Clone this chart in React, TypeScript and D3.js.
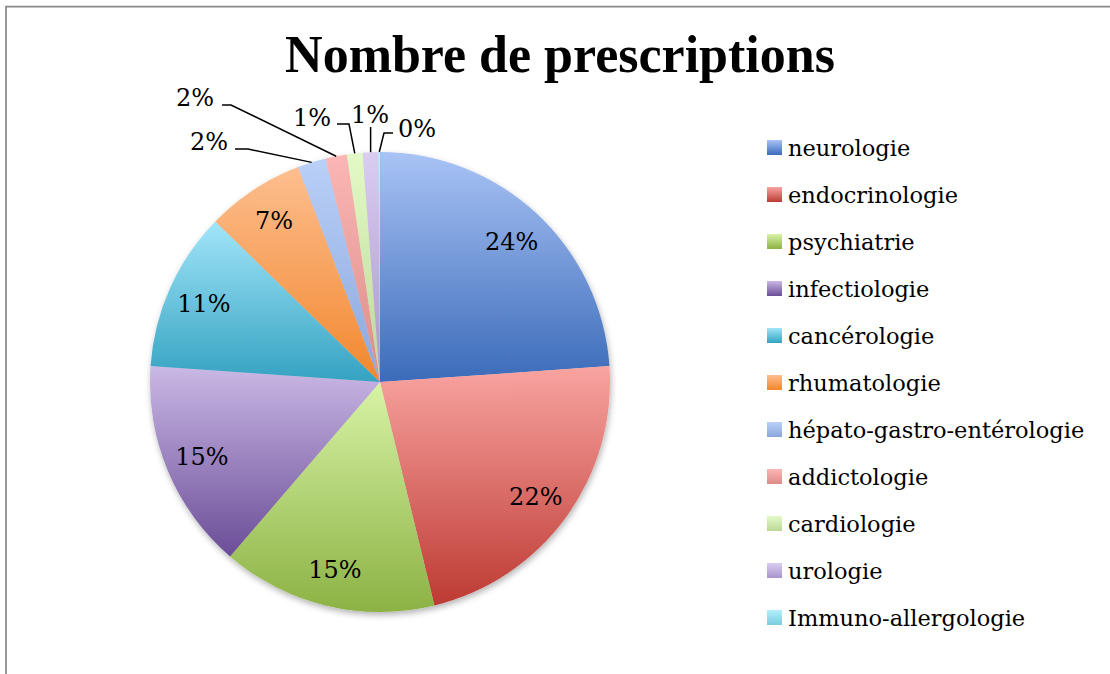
import React, { useEffect, useRef } from 'react';
import * as d3 from 'd3';

// Share of prescriptions by speciality (%), clockwise from 12 o'clock
const categories = [
  'neurologie',
  'endocrinologie',
  'psychiatrie',
  'infectiologie',
  'cancérologie',
  'rhumatologie',
  'hépato-gastro-entérologie',
  'addictologie',
  'cardiologie',
  'urologie',
  'Immuno-allergologie',
];
const shares = [23.9, 22.3, 15.1, 14.8, 11.2, 6.9, 2.0, 1.5, 1.1, 1.1, 0.1];

// gradient stops, top -> bottom of each slice
const lightColors = ['#a9c3f5', '#f9a4a1', '#d8f3a6', '#cab8e5', '#a2e5f9', '#fdbe8f', '#bad0f8', '#fbb7b5', '#e4fac6', '#dacdf1', '#b3f0fb'];
const darkColors = ['#3b6bb9', '#bd3a33', '#8cb244', '#6a4d97', '#34a2c1', '#f2872d', '#8aa6dc', '#dc8b88', '#bad799', '#a995cb', '#7bcbe0'];

// callouts for the thin slices at the top
const callouts: Record<string, { tx: number; ty: number; anchor: string; hx: number[] | null; hy: number }> = {
  'hépato-gastro-entérologie': { tx: 228, ty: 150, anchor: 'end', hx: [235, 248], hy: 149 },
  addictologie: { tx: 214, ty: 106, anchor: 'end', hx: [222, 231], hy: 105 },
  cardiologie: { tx: 331, ty: 126, anchor: 'end', hx: [337, 349], hy: 124 },
  urologie: { tx: 370, ty: 123, anchor: 'middle', hx: null, hy: 127 },
  'Immuno-allergologie': { tx: 398, ty: 137, anchor: 'start', hx: [393, 384], hy: 133 },
};

const App = () => {
  const svgRef = useRef<SVGSVGElement>(null);

  useEffect(() => {
    const width = 1110;
    const height = 674;
    const cx = 380;
    const cy = 382;
    const radius = 230;
    const serif = '"DejaVu Serif", serif';

    const svg = d3.select(svgRef.current)
      .attr('width', width)
      .attr('height', height)
      .attr('viewBox', [0, 0, width, height].join(' '));
    svg.selectAll('*').remove();

    const defs = svg.append('defs');
    categories.forEach((c, i) => {
      const g = defs.append('linearGradient')
        .attr('id', `grad${i}`)
        .attr('x1', 0).attr('y1', 0).attr('x2', 0).attr('y2', 1);
      g.append('stop').attr('offset', '0%').attr('stop-color', lightColors[i]);
      g.append('stop').attr('offset', '100%').attr('stop-color', darkColors[i]);
    });
    defs.append('filter')
      .attr('id', 'shadow')
      .attr('x', '-10%').attr('y', '-10%').attr('width', '120%').attr('height', '120%')
      .append('feDropShadow')
      .attr('dx', 1).attr('dy', 3).attr('stdDeviation', 3)
      .attr('flood-color', '#000').attr('flood-opacity', 0.3);

    svg.append('rect').attr('width', width).attr('height', height).attr('fill', '#fff');

    // chart frame (left and top edges visible)
    svg.append('path')
      .attr('d', `M6,${height} V6.5 H${width}`)
      .attr('fill', 'none')
      .attr('stroke', '#8a8a8a')
      .attr('stroke-width', 1.75);

    svg.append('text')
      .attr('x', 560)
      .attr('y', 72)
      .attr('text-anchor', 'middle')
      .style('font-family', '"Liberation Serif", serif')
      .style('font-weight', 'bold')
      .style('font-size', '52px')
      .attr('fill', '#000')
      .text('Nombre de prescriptions');

    const total = d3.sum(shares);
    const pie = d3.pie<number>().sort(null).value(d => d);
    const arcs = pie(shares);
    const arc = d3.arc<d3.PieArcDatum<number>>().innerRadius(0).outerRadius(radius);
    const labelArc = d3.arc<d3.PieArcDatum<number>>().innerRadius(193).outerRadius(193);
    const rimArc = d3.arc<d3.PieArcDatum<number>>().innerRadius(radius).outerRadius(radius);
    const pct = (v: number) => `${Math.round((v / total) * 100 + 1e-9)}%`;

    const g = svg.append('g').attr('transform', `translate(${cx},${cy})`);
    g.append('g')
      .attr('filter', 'url(#shadow)')
      .selectAll('path')
      .data(arcs)
      .join('path')
      .attr('d', arc)
      .attr('fill', (d, i) => `url(#grad${i})`);

    // labels inside the large slices
    g.selectAll('text.inside')
      .data(arcs.filter((d, i) => !callouts[categories[i]]))
      .join('text')
      .attr('class', 'inside')
      .attr('transform', d => `translate(${labelArc.centroid(d)})`)
      .attr('text-anchor', 'middle')
      .attr('dy', '0.36em')
      .style('font-family', serif)
      .style('font-size', '24px')
      .attr('fill', '#000')
      .text(d => pct(d.value));

    // callouts for the thin slices
    arcs.forEach((d, i) => {
      const c = callouts[categories[i]];
      if (!c) return;
      const [rx, ry] = rimArc.centroid(d);
      const px = cx + rx;
      const py = cy + ry;
      const pts: [number, number][] = c.hx
        ? [[c.hx[0], c.hy], [c.hx[1], c.hy], [px, py]]
        : [[px, c.hy], [px, py]];
      svg.append('path')
        .attr('d', d3.line()(pts))
        .attr('fill', 'none')
        .attr('stroke', '#000')
        .attr('stroke-width', 1.5);
      svg.append('text')
        .attr('x', c.tx)
        .attr('y', c.ty)
        .attr('text-anchor', c.anchor)
        .style('font-family', serif)
        .style('font-size', '24px')
        .attr('fill', '#000')
        .text(pct(d.value));
    });

    // legend
    const legendY = d3.scalePoint<string>().domain(categories).range([147.5, 617.5]);
    const legend = svg.append('g')
      .selectAll('g')
      .data(categories)
      .join('g')
      .attr('transform', d => `translate(767,${legendY(d)})`);
    legend.append('rect')
      .attr('x', 0).attr('y', -7.5)
      .attr('width', 15).attr('height', 15)
      .attr('fill', (d, i) => `url(#grad${i})`);
    legend.append('text')
      .attr('x', 21)
      .attr('y', 8)
      .style('font-family', serif)
      .style('font-size', '22.5px')
      .attr('fill', '#000')
      .text(d => d);
  }, []);

  return (
    <div style={{ position: 'absolute', left: 0, top: 0 }}>
      <svg ref={svgRef} style={{ display: 'block' }} />
    </div>
  );
};

export default App;
